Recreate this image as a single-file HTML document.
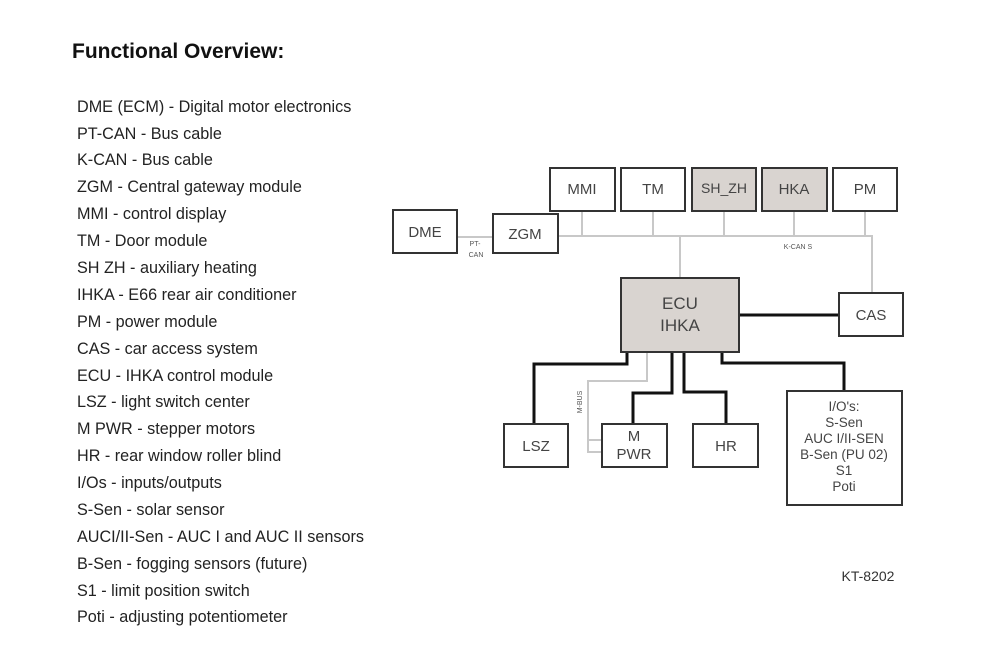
<!DOCTYPE html>
<html><head><meta charset="utf-8"><style>
html,body{margin:0;padding:0;background:#fff;}
svg{display:block;font-family:"Liberation Sans",Arial,sans-serif;}
</style></head><body>
<svg width="991" height="667" viewBox="0 0 991 667" xmlns="http://www.w3.org/2000/svg">
<text x="72" y="58" font-size="21" font-weight="bold" fill="#111">Functional Overview:</text>
<g font-size="16.2" fill="#222">
<text x="77" y="112">DME (ECM) - Digital motor electronics</text>
<text x="77" y="139">PT-CAN - Bus cable</text>
<text x="77" y="165">K-CAN - Bus cable</text>
<text x="77" y="192">ZGM - Central gateway module</text>
<text x="77" y="219">MMI - control display</text>
<text x="77" y="246">TM - Door module</text>
<text x="77" y="273">SH ZH - auxiliary heating</text>
<text x="77" y="300">IHKA - E66 rear air conditioner</text>
<text x="77" y="327">PM - power module</text>
<text x="77" y="354">CAS - car access system</text>
<text x="77" y="381">ECU - IHKA control module</text>
<text x="77" y="407">LSZ - light switch center</text>
<text x="77" y="434">M PWR - stepper motors</text>
<text x="77" y="461">HR - rear window roller blind</text>
<text x="77" y="488">I/Os - inputs/outputs</text>
<text x="77" y="515">S-Sen - solar sensor</text>
<text x="77" y="542">AUCI/II-Sen - AUC I and AUC II sensors</text>
<text x="77" y="569">B-Sen - fogging sensors (future)</text>
<text x="77" y="596">S1 - limit position switch</text>
<text x="77" y="622">Poti - adjusting potentiometer</text>
</g>
<g stroke="#c8c8c8" stroke-width="2" fill="none">
<line x1="457" y1="237" x2="493" y2="237"/>
<polyline points="558,236 872,236 872,293"/>
<line x1="582" y1="211" x2="582" y2="236"/>
<line x1="653" y1="211" x2="653" y2="236"/>
<line x1="724" y1="211" x2="724" y2="236"/>
<line x1="794" y1="211" x2="794" y2="236"/>
<line x1="865" y1="211" x2="865" y2="236"/>
<line x1="680" y1="236" x2="680" y2="278"/>
<polyline points="647,352 647,381 588,381 588,452 602,452"/>
<line x1="588" y1="440" x2="602" y2="440"/>
</g>
<g stroke="#111" stroke-width="3" fill="none">
<line x1="739" y1="315" x2="839" y2="315"/>
<polyline points="627,352 627,364 534,364 534,424"/>
<polyline points="672,352 672,393 633,393 633,424"/>
<polyline points="684,352 684,392 726,392 726,424"/>
<polyline points="722,352 722,363 844,363 844,391"/>
</g>
<g stroke="#333" stroke-width="2">
<rect x="550" y="168" width="65" height="43" fill="#fff"/>
<rect x="621" y="168" width="64" height="43" fill="#fff"/>
<rect x="692" y="168" width="64" height="43" fill="#d9d4d0"/>
<rect x="762" y="168" width="65" height="43" fill="#d9d4d0"/>
<rect x="833" y="168" width="64" height="43" fill="#fff"/>
<rect x="393" y="210" width="64" height="43" fill="#fff"/>
<rect x="493" y="214" width="65" height="39" fill="#fff"/>
<rect x="621" y="278" width="118" height="74" fill="#d9d4d0"/>
<rect x="839" y="293" width="64" height="43" fill="#fff"/>
<rect x="504" y="424" width="64" height="43" fill="#fff"/>
<rect x="602" y="424" width="65" height="43" fill="#fff"/>
<rect x="693" y="424" width="65" height="43" fill="#fff"/>
<rect x="787" y="391" width="115" height="114" fill="#fff"/>
</g>
<g font-size="15" fill="#444" text-anchor="middle">
<text x="582" y="194">MMI</text>
<text x="653" y="194">TM</text>
<text x="724" y="193" font-size="14">SH_ZH</text>
<text x="794" y="194">HKA</text>
<text x="865" y="194">PM</text>
<text x="425" y="237">DME</text>
<text x="525" y="239">ZGM</text>
<text x="680" y="309" font-size="17">ECU</text>
<text x="680" y="331" font-size="17">IHKA</text>
<text x="871" y="320">CAS</text>
<text x="536" y="451">LSZ</text>
<text x="634" y="441">M</text>
<text x="634" y="459">PWR</text>
<text x="726" y="451">HR</text>
<g font-size="13.5">
<text x="844" y="411">I/O's:</text>
<text x="844" y="427">S-Sen</text>
<text x="844" y="443">AUC I/II-SEN</text>
<text x="844" y="459">B-Sen (PU 02)</text>
<text x="844" y="475">S1</text>
<text x="844" y="491">Poti</text>
</g>
<text x="868" y="581" font-size="14" fill="#333">KT-8202</text>
</g>
<g font-size="7" fill="#555" text-anchor="middle">
<text x="475" y="246">PT-</text>
<text x="476" y="257">CAN</text>
<text x="798" y="249">K-CAN S</text>
<text transform="translate(582,402) rotate(-90)" x="0" y="0">M-BUS</text>
</g>
</svg>
</body></html>
